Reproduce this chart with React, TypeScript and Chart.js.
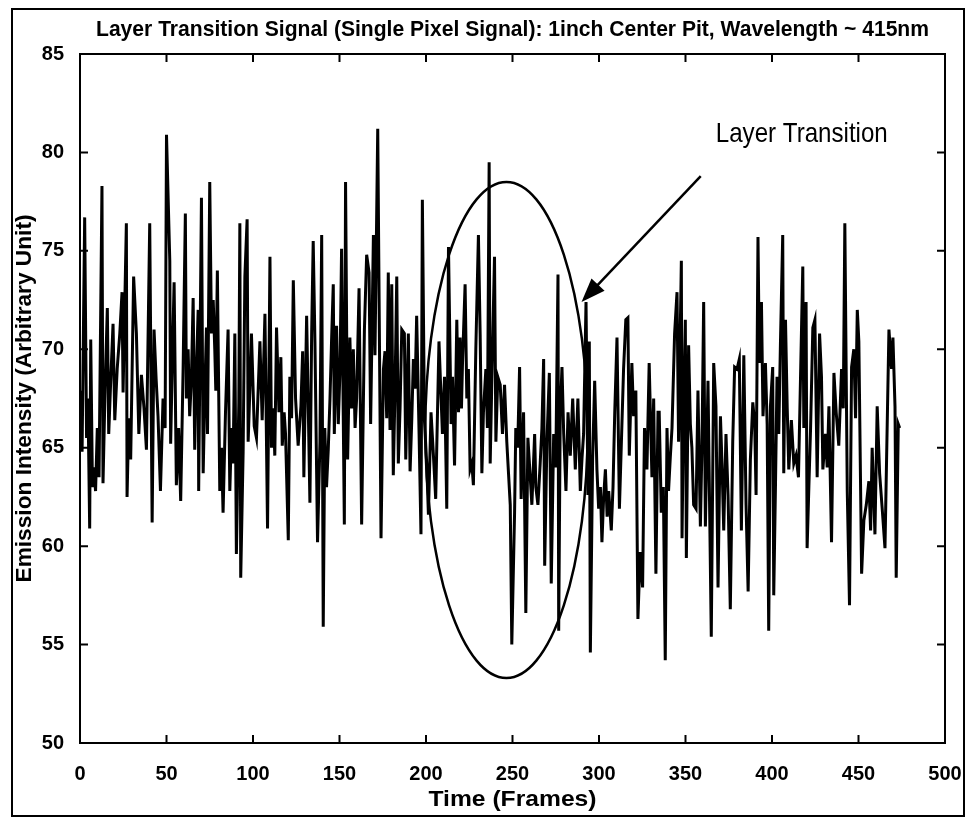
import React, { useEffect, useRef } from "react";
import { Chart, registerables } from "chart.js";

Chart.register(...registerables);

const TITLE = "Layer Transition Signal (Single Pixel Signal): 1inch Center Pit, Wavelength ~ 415nm";
const X_TITLE = "Time (Frames)";
const Y_TITLE = "Emission Intensity (Arbitrary Unit)";
const NOTE = "Layer Transition";

const xTicks = [0, 50, 100, 150, 200, 250, 300, 350, 400, 450, 500];
const yTicks = [50, 55, 60, 65, 70, 75, 80, 85];

// annotation (data units): ellipse around the transition, arrow pointing at it
const ellipseCenter = [246.5, 65.9];
const ellipseRadius = [46.9, 12.6];
const arrowFrom = [358.8, 78.8];
const arrowTo = [289.9, 72.4];
const noteAt = [367.5, 80.9];

// single pixel signal: [frame, emission intensity]
const signal: [number, number][] = [
  [0, 67.9], [1.2, 64.8], [2.7, 76.7], [3.8, 65.5], [4.6, 67.5], [5.6, 60.9], [6.2, 70.5], [7.2, 63.0], [8, 64.0], [9, 62.8],
  [10, 66.0], [11, 63.5], [12.7, 78.3], [13.3, 63.2], [14.5, 68.0], [15.8, 72.1], [16.6, 65.7], [17.8, 68.5], [19.1, 71.3], [20.1, 66.4],
  [21.5, 69.0], [23, 70.8], [24.3, 72.9], [24.9, 67.8], [26.8, 76.4], [27.2, 62.5], [28.2, 66.5], [29.3, 64.4], [31, 73.7], [32.6, 70.8],
  [34, 65.7], [35.5, 68.7], [37, 67.0], [38.4, 64.9], [40.3, 76.4], [41.7, 61.2], [42.8, 71.0], [44, 68.5], [45.1, 66.6], [46.5, 62.8],
  [48, 67.5], [49.2, 66.0], [50, 80.9],
  [51.9, 74.5], [52.4, 65.2], [53.4, 69.5], [54.4, 73.4], [55.7, 63.1], [57, 66.0], [58.2, 62.3], [59.6, 69.0], [60.9, 76.9], [61.5, 67.5],
  [62.5, 70.0], [63.4, 66.6], [64.4, 68.5], [65.4, 72.6], [66.3, 64.9], [67.3, 69.0], [68.3, 72.0], [68.6, 62.8], [70.2, 77.7], [71.2, 63.7],
  [72.2, 68.0], [73.1, 71.1], [73.7, 65.7], [75, 78.5], [76, 70.8], [77, 72.5], [77.9, 70.0], [78.5, 67.9], [79.4, 74.0], [80.8, 62.8],
  [81.8, 65.0], [82.7, 61.7], [84.1, 66.8], [85.6, 71.0], [86.6, 62.8], [87.6, 66.0], [88.5, 64.2], [89.5, 70.8], [90.4, 59.6], [91.8, 67.3],
  [92.4, 76.4], [92.9, 58.4], [94.3, 64.8], [95.3, 73.7], [96.6, 76.6], [97.2, 65.3], [98.2, 68.0], [99.1, 70.8], [100.7, 66.1], [102, 65.5],
  [104, 70.4], [105.3, 66.4], [106.9, 71.8], [108.4, 60.9], [109.8, 74.7], [110.7, 65.0], [111.7, 67.0], [112.6, 64.6], [113.6, 71.1], [115, 66.8],
  [116.1, 69.6], [116.9, 65.1], [118, 66.8], [118.8, 65.7], [120.4, 60.3], [121.3, 68.6], [122.3, 66.5], [123.3, 73.5], [124.6, 67.5], [126.1, 65.1],
  [127.7, 67.1], [128.7, 69.9], [129.4, 63.5], [131, 71.7], [131.9, 67.3], [132.9, 62.2], [133.9, 70.8], [134.8, 75.5], [135.8, 70.4], [137.3, 60.2],
  [138.7, 65.3], [139.7, 75.8], [140.6, 55.9], [141.5, 66.0], [142.5, 63.0], [143.5, 64.9], [144.5, 67.5], [145.4, 70.4], [146.4, 73.3], [147, 65.7],
  [148.3, 71.2], [149.3, 66.2], [150.3, 69.0], [151.2, 75.1], [152.8, 61.1], [153.5, 78.5], [154.7, 64.4],
  [156, 70.6], [157, 67.0], [158, 70.0], [159, 66.0], [159.9, 67.5], [161.3, 73.1], [162.8, 61.1], [164.4, 71.0], [165.7, 74.8], [167.1, 73.9],
  [168, 66.2], [169.6, 75.8], [170.5, 69.7], [172.1, 81.2], [174, 60.4], [175.4, 69.0], [176.3, 69.9], [177.3, 66.5], [178.2, 73.9], [179.2, 65.9],
  [180.2, 73.3], [181.1, 63.6], [182.1, 68.0], [183.1, 73.7], [184, 64.2], [185, 67.0], [186, 71.0], [187.5, 70.8], [188.3, 64.4], [189.8, 70.8],
  [190.8, 63.8], [191.8, 66.5], [192.7, 69.5], [193.7, 68.0], [194.6, 71.7], [196, 65.7], [197.1, 60.6], [197.9, 77.6], [199.1, 66.4], [200.4, 64.2],
  [201.4, 61.6], [202.9, 66.8], [204.3, 64.6], [205.6, 62.4],
  [207.5, 70.4], [209.5, 65.7], [210.7, 68.6], [212, 61.9], [213, 75.2], [214.5, 66.2], [215.3, 68.6], [216.5, 64.1], [217.8, 71.5], [218.8, 66.8],
  [219.7, 70.6], [220.5, 67.0], [221.1, 69.3], [222.6, 73.3], [223.6, 67.5], [224.5, 69.0], [225.5, 63.9], [226.5, 64.2], [227.4, 63.1], [228.8, 70.0],
  [230.3, 75.8], [231.3, 70.8], [232.3, 63.7], [233.2, 66.8], [234.6, 69.0], [235.5, 66.0], [236.5, 79.5], [237.1, 64.2], [238.1, 68.6], [239.6, 74.7],
  [240.4, 65.3], [241.5, 68.6], [242.9, 68.2], [244.2, 65.7], [245.4, 68.2], [246.7, 65.3], [247.7, 63.7], [248.7, 62.1], [249.6, 55.0], [251.2, 61.7],
  [251.9, 66.0], [253, 65.0], [254.1, 69.1], [255, 62.4], [256.4, 66.8], [257.7, 56.6], [258.9, 65.5],
  [261.2, 62.1], [262.8, 65.7], [263.5, 63.0], [264.7, 62.1], [266, 64.2], [267, 66.0], [268, 69.5], [268.6, 59.0], [269.9, 65.3], [271.3, 68.8],
  [272.4, 58.1], [273.8, 65.7], [275, 64.0], [276.3, 73.8], [276.7, 55.7], [277.6, 66.8], [278.6, 69.1], [279.6, 65.7], [280.9, 62.8], [282.1, 66.8],
  [283.4, 64.6], [284.8, 67.5], [286.3, 63.9], [287.8, 67.5], [289.2, 62.8], [290.2, 64.5], [291.1, 65.7], [292.5, 72.4], [293.6, 62.6], [294.4, 70.4],
  [295, 54.6], [296.3, 64.4], [297.5, 68.4], [298.8, 63.9], [299.8, 61.9], [300.8, 63.0], [301.7, 60.2], [302.7, 62.5], [303.7, 63.9], [304.7, 61.5],
  [305.6, 62.8], [307.1, 60.8], [308.1, 63.0], [309.1, 66.8], [310.4, 70.6], [311.8, 61.9],
  [314.2, 69.0], [315.5, 71.5], [316.7, 71.6], [317.5, 64.6], [319, 69.3], [320, 66.6], [321.3, 67.9], [322.5, 56.3], [323.8, 59.7], [325.2, 57.9],
  [326.3, 66.0], [327.7, 63.9], [329, 69.3], [330.6, 63.5], [331.6, 67.5], [332.9, 58.6], [334.1, 66.8], [334.8, 66.8], [336, 61.7], [337.2, 63.0],
  [338.3, 54.2], [339.3, 66.0], [340.2, 62.8], [341.2, 64.5], [342.2, 66.0], [343.7, 70.8], [345.1, 72.9], [346, 65.3], [347.6, 74.5], [348, 60.4],
  [348.9, 67.1], [349.9, 71.5], [350.5, 59.4], [351.8, 70.2], [352.8, 66.2], [353.7, 65.0], [354.7, 62.1], [356.1, 61.9], [357.2, 67.9], [358.6, 61.0],
  [359.5, 65.0], [360.5, 72.4], [361.5, 61.0], [363, 68.4], [364.9, 55.4], [366.3, 69.3],
  [367.6, 67.1], [368.8, 57.9], [370.2, 66.6], [371.1, 64.2], [372.1, 60.8], [373.4, 65.7], [374.6, 62.6], [375.9, 56.8], [377.3, 65.3], [378.4, 69.1],
  [379.8, 69.0], [381.1, 69.5], [382.3, 60.8], [383.7, 69.7], [385, 62.1], [386.2, 57.7], [387.5, 64.4], [388.9, 67.3], [390, 66.2], [390.8, 62.6],
  [391.9, 75.7], [392.7, 69.3], [393.9, 72.4], [394.8, 66.6], [396.2, 69.3], [397.2, 66.2], [398.1, 55.7], [399.1, 67.1], [400.4, 69.1], [401, 57.5],
  [402, 63.0], [402.9, 68.6], [403.9, 65.7], [404.9, 70.4], [406.2, 75.8], [406.8, 63.7], [407.8, 71.5], [408.8, 67.0], [409.7, 63.9], [411.2, 66.4],
  [412.6, 64.2], [413.9, 64.6],
  [415.3, 63.5], [417.8, 74.2], [418.4, 66.0], [419.7, 72.4], [420.3, 59.9], [421.3, 63.0], [422.3, 66.0], [423.6, 71.1], [424.8, 71.5], [426.1, 63.5],
  [427.5, 70.8], [428.6, 68.6], [429.4, 63.9], [430.9, 65.7], [431.9, 64.0], [432.9, 67.1], [434.4, 60.2], [435.8, 68.8], [437.1, 66.8], [438.6, 65.1],
  [440.2, 69.0], [441.2, 67.0], [442.1, 76.4], [443.5, 62.8], [444.8, 57.0], [446, 69.1], [447.3, 70.0], [448.3, 66.5], [449.3, 72.0], [450.2, 70.4],
  [451.8, 58.6], [453.1, 61.3], [454.5, 62.1], [456, 63.3], [457, 60.8], [457.9, 65.0], [459.5, 60.6], [460.8, 67.1], [462.2, 63.7], [463.7, 61.9],
  [465.3, 59.9], [466.6, 66.2], [467.6, 71.0], [469.1, 69.0], [469.9, 70.6], [471.1, 67.1], [471.8, 58.4], [473, 66.2], [473.8, 66.0],
];

const W = 967;
const H = 821;
const FONT = '"Liberation Sans Narrow", "Arial Narrow", "Liberation Sans", Arial, sans-serif';

function fitText(ctx: CanvasRenderingContext2D, text: string, x: number, y: number, font: string, width: number, rotate = 0) {
  ctx.save();
  ctx.font = font;
  ctx.textAlign = "center";
  ctx.textBaseline = "middle";
  const w = ctx.measureText(text).width;
  ctx.translate(x, y);
  if (rotate) ctx.rotate(rotate);
  ctx.scale(width / w, 1);
  ctx.fillText(text, 0, 0);
  ctx.restore();
}

const decor = {
  id: "decor",
  afterDraw(chart: any) {
    const { ctx, chartArea: a, scales } = chart;
    const xs = scales.x;
    const ys = scales.y;
    ctx.save();
    ctx.strokeStyle = "#000";
    ctx.fillStyle = "#000";
    ctx.lineWidth = 2;
    ctx.strokeRect(a.left, a.top, a.right - a.left, a.bottom - a.top);
    ctx.beginPath();
    for (const v of xTicks) {
      const px = xs.getPixelForValue(v);
      ctx.moveTo(px, a.bottom);
      ctx.lineTo(px, a.bottom - 8);
      ctx.moveTo(px, a.top);
      ctx.lineTo(px, a.top + 8);
    }
    for (const v of yTicks) {
      const py = ys.getPixelForValue(v);
      ctx.moveTo(a.left, py);
      ctx.lineTo(a.left + 8, py);
      ctx.moveTo(a.right, py);
      ctx.lineTo(a.right - 8, py);
    }
    ctx.stroke();

    // page frame
    ctx.strokeRect(12, 9, 952, 807);

    // titles
    const cx = (a.left + a.right) / 2;
    fitText(ctx, TITLE, cx, 30, "bold 22px " + FONT, 833);
    fitText(ctx, X_TITLE, cx, 800, "bold 22px " + FONT, 168);
    fitText(ctx, Y_TITLE, 25, (a.top + a.bottom) / 2, "bold 22px " + FONT, 368, -Math.PI / 2);

    // ellipse
    const ex = xs.getPixelForValue(ellipseCenter[0]);
    const ey = ys.getPixelForValue(ellipseCenter[1]);
    const rx = xs.getPixelForValue(ellipseCenter[0] + ellipseRadius[0]) - ex;
    const ry = ey - ys.getPixelForValue(ellipseCenter[1] + ellipseRadius[1]);
    ctx.lineWidth = 2.5;
    ctx.beginPath();
    ctx.ellipse(ex, ey, rx, ry, 0, 0, Math.PI * 2);
    ctx.stroke();

    // arrow
    const x0 = xs.getPixelForValue(arrowFrom[0]);
    const y0 = ys.getPixelForValue(arrowFrom[1]);
    const x1 = xs.getPixelForValue(arrowTo[0]);
    const y1 = ys.getPixelForValue(arrowTo[1]);
    const dx = x1 - x0;
    const dy = y1 - y0;
    const len = Math.hypot(dx, dy);
    const ux = dx / len;
    const uy = dy / len;
    const hl = 24;
    const hw = 9;
    ctx.lineWidth = 2.5;
    ctx.beginPath();
    ctx.moveTo(x0, y0);
    ctx.lineTo(x1 - ux * hl * 0.8, y1 - uy * hl * 0.8);
    ctx.stroke();
    ctx.beginPath();
    ctx.moveTo(x1, y1);
    ctx.lineTo(x1 - ux * hl - uy * hw, y1 - uy * hl + ux * hw);
    ctx.lineTo(x1 - ux * hl + uy * hw, y1 - uy * hl - ux * hw);
    ctx.closePath();
    ctx.fill();

    // note
    const nx = xs.getPixelForValue(noteAt[0]);
    const ny = ys.getPixelForValue(noteAt[1]);
    fitText(ctx, NOTE, nx + 86, ny, "28px " + FONT, 172);
    ctx.restore();
  },
};

export default function App() {
  const ref = useRef<HTMLCanvasElement | null>(null);
  useEffect(() => {
    if (!ref.current) return;
    const chart = new Chart(ref.current, {
      type: "line",
      data: {
        datasets: [
          {
            data: signal.map(([x, y]) => ({ x, y })),
            borderColor: "#000",
            borderWidth: 3,
            pointRadius: 0,
            tension: 0,
            fill: false,
          },
        ],
      },
      options: {
        animation: false,
        responsive: false,
        layout: { padding: { top: 54, right: 22, left: 0, bottom: 0 } },
        plugins: { legend: { display: false }, tooltip: { enabled: false }, title: { display: false } },
        scales: {
          x: {
            type: "linear",
            min: 0,
            max: 500,
            afterFit: (s: any) => {
              s.height = 78;
              s.paddingLeft = 0;
              s.paddingRight = 0;
            },
            afterBuildTicks: (s: any) => {
              s.ticks = xTicks.map((v) => ({ value: v }));
            },
            grid: { display: false },
            border: { display: false },
            ticks: { color: "#000", padding: 11, maxRotation: 0, font: { family: FONT, size: 20, weight: "bold" } },
          },
          y: {
            type: "linear",
            min: 50,
            max: 85,
            afterFit: (s: any) => {
              s.width = 80;
              s.paddingTop = 0;
              s.paddingBottom = 0;
            },
            afterBuildTicks: (s: any) => {
              s.ticks = yTicks.map((v) => ({ value: v }));
            },
            grid: { display: false },
            border: { display: false },
            ticks: { color: "#000", padding: 8, font: { family: FONT, size: 20, weight: "bold" } },
          },
        },
      },
      plugins: [decor],
    });
    return () => chart.destroy();
  }, []);
  return (
    <div style={{ position: "absolute", left: 0, top: 0, width: W, height: H, background: "#fff" }}>
      <canvas ref={ref} width={W} height={H} style={{ display: "block" }} />
    </div>
  );
}
